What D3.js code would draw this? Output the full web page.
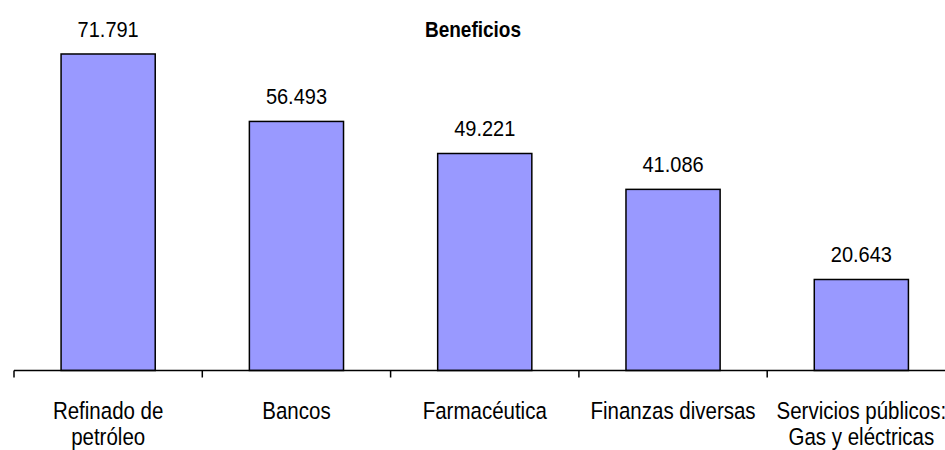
<!DOCTYPE html>
<html>
<head>
<meta charset="utf-8">
<script src="https://cdn.jsdelivr.net/npm/d3@7"></script>
<style>
  body { margin: 0; background: #fff; }
  text { font-family: "Liberation Sans", Arial, sans-serif; fill: #000; }
</style>
</head>
<body>
<div class="chart"></div>
<script>
// Beneficios por sector

var categories = [
    ["Refinado de", "petróleo"],
    ["Bancos"],
    ["Farmacéutica"],
    ["Finanzas diversas"],
    ["Servicios públicos:", "Gas y eléctricas"]
];
var values = [71791, 56493, 49221, 41086, 20643];
var title = "Beneficios";

var svgWidth = 945;
var svgHeight = 450;

var axisY = 370.5;
var xLeft = 14;
var xRight = 955.5;

var svg = d3.select(".chart")
    .append("svg")
    .attr("width", svgWidth)
    .attr("height", svgHeight);

var es = d3.formatLocale({ decimal: ",", thousands: ".", grouping: [3], currency: ["", " €"] });
var fmt = es.format(",d");

var keys = categories.map(function(c) { return c.join(" "); });

var xScale = d3.scaleBand()
    .domain(keys)
    .range([xLeft, xRight])
    .paddingInner(0.5)
    .paddingOuter(0.25);

var yScale = d3.scaleLinear()
    .domain([0, 80000])
    .range([axisY, axisY - 352.7]);

// bars
svg.selectAll("rect.bar")
    .data(values)
    .enter()
    .append("rect")
    .attr("class", "bar")
    .attr("x", function(d, i) { return xScale(keys[i]); })
    .attr("y", function(d) { return yScale(d); })
    .attr("width", xScale.bandwidth())
    .attr("height", function(d) { return axisY - yScale(d); })
    .attr("fill", "#9999ff")
    .attr("stroke", "#000")
    .attr("stroke-width", 1.5);

// value labels
svg.selectAll("text.value")
    .data(values)
    .enter()
    .append("text")
    .attr("class", "value")
    .attr("text-anchor", "middle")
    .attr("font-size", "20px")
    .attr("transform", function(d, i) {
        return "translate(" + (xScale(keys[i]) + xScale.bandwidth() / 2) + "," + (yScale(d) - 17) + ") scale(1,1.13)";
    })
    .text(function(d) { return fmt(d); });

// axis line and ticks between categories
svg.append("line")
    .attr("x1", xLeft)
    .attr("x2", xRight)
    .attr("y1", axisY)
    .attr("y2", axisY)
    .attr("stroke", "#000")
    .attr("stroke-width", 1.5);

var tickPos = d3.range(keys.length + 1).map(function(i) { return xLeft + i * xScale.step(); });
svg.selectAll("line.tick")
    .data(tickPos)
    .enter()
    .append("line")
    .attr("class", "tick")
    .attr("x1", function(d) { return d; })
    .attr("x2", function(d) { return d; })
    .attr("y1", axisY)
    .attr("y2", axisY + 7)
    .attr("stroke", "#000")
    .attr("stroke-width", 1.5);

// category labels
var catG = svg.selectAll("g.cat")
    .data(categories)
    .enter()
    .append("g")
    .attr("class", "cat");

catG.selectAll("text")
    .data(function(d, i) { return d.map(function(line, j) { return { line: line, i: i, j: j }; }); })
    .enter()
    .append("text")
    .attr("text-anchor", "middle")
    .attr("font-size", "20.5px")
    .attr("transform", function(d) {
        return "translate(" + (xScale(keys[d.i]) + xScale.bandwidth() / 2) + "," + (419 + d.j * 26) + ") scale(1,1.13)";
    })
    .text(function(d) { return d.line; });

// title
svg.append("text")
    .attr("text-anchor", "middle")
    .attr("font-size", "19px")
    .attr("font-weight", "bold")
    .attr("transform", "translate(473,36.5) scale(1,1.13)")
    .text(title);
</script>
</body>
</html>
